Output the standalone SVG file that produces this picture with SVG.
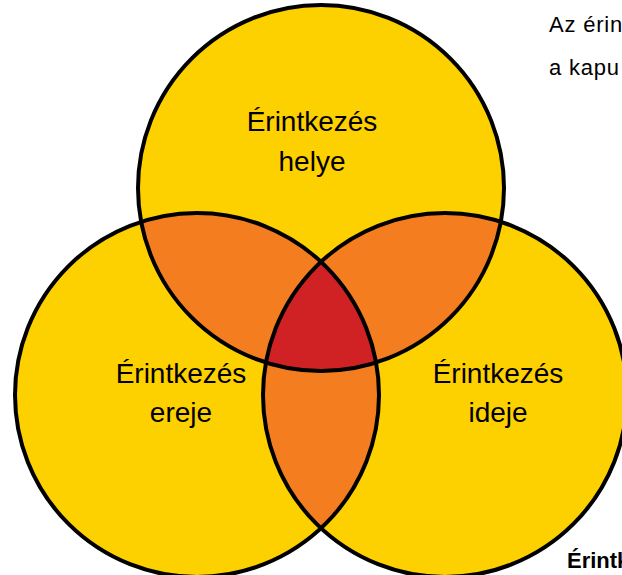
<svg xmlns="http://www.w3.org/2000/svg" width="622" height="575" viewBox="0 0 622 575">
  <style>
    .fillY { fill: #FDD000; stroke: none; }
    .fillO { fill: #F47D20; stroke: none; }
    .fillR { fill: #D02124; stroke: none; }
    .ring { fill: none; stroke: #000; stroke-width: 4; }
    .lbl { font-family: "Liberation Sans", Arial, sans-serif; font-size: 28px; fill: #000; text-anchor: middle; }
    .side { font-family: "Liberation Sans", Arial, sans-serif; font-size: 22px; fill: #000; letter-spacing: 0.8px; }
    .sideB { font-family: "Liberation Sans", Arial, sans-serif; font-size: 22px; font-weight: bold; fill: #000; }
  </style>
  <defs>
    <circle id="shT" cx="321" cy="188" r="183"/>
    <circle id="shL" cx="197" cy="395" r="182"/>
    <circle id="shR" cx="445" cy="395" r="182"/>
    <clipPath id="cT"><use href="#shT"/></clipPath>
    <clipPath id="cL"><use href="#shL"/></clipPath>
  </defs>

  <g id="fills">
    <use href="#shT" class="fillY"/>
    <use href="#shL" class="fillY"/>
    <use href="#shR" class="fillY"/>
    <use href="#shL" class="fillO" clip-path="url(#cT)"/>
    <use href="#shR" class="fillO" clip-path="url(#cT)"/>
    <use href="#shR" class="fillO" clip-path="url(#cL)"/>
    <g clip-path="url(#cT)">
      <use href="#shR" class="fillR" clip-path="url(#cL)"/>
    </g>
  </g>

  <g id="connectors"></g>

  <g id="node-helye">
    <use href="#shT" class="ring"/>
    <text class="lbl" x="312" y="131">Érintkezés</text>
    <text class="lbl" x="312" y="171">helye</text>
  </g>
  <g id="node-ereje">
    <use href="#shL" class="ring"/>
    <text class="lbl" x="181" y="383">Érintkezés</text>
    <text class="lbl" x="181" y="422">ereje</text>
  </g>
  <g id="node-ideje">
    <use href="#shR" class="ring"/>
    <text class="lbl" x="498" y="383">Érintkezés</text>
    <text class="lbl" x="498" y="422">ideje</text>
  </g>

  <g id="side-text">
    <text class="side" x="549" y="32">Az érin</text>
    <text class="side" x="549" y="75">a kapu</text>
    <text class="sideB" x="567" y="568">Érintk</text>
  </g>
</svg>
